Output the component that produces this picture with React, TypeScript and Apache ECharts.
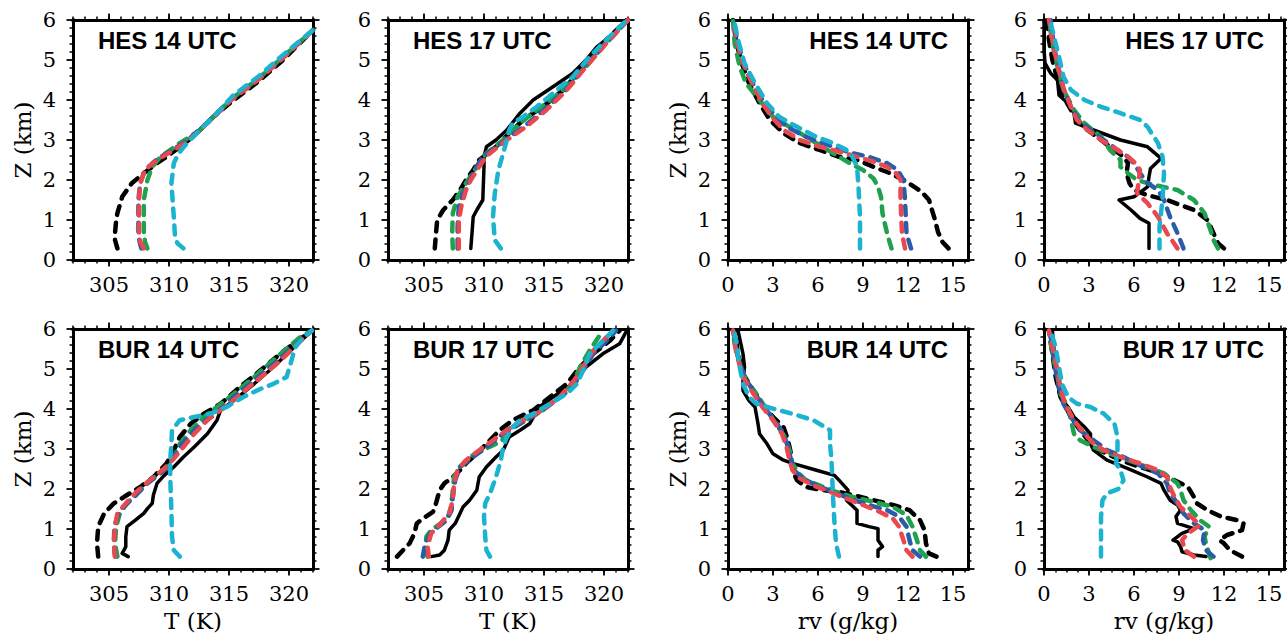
import React, { useEffect, useRef } from 'react';
import * as echarts from 'echarts';

// ---------- axis definitions ----------
const T_RANGE = [302, 322];
const RV_RANGE = [0, 16];
const Z_RANGE = [0, 6];
const T_MAJOR_TICKS = [305, 310, 315, 320];
const T_MINOR_TICKS = [302, 303, 304, 305, 306, 307, 308, 309, 310, 311, 312, 313, 314, 315, 316, 317, 318, 319, 320, 321, 322];
const RV_MAJOR_TICKS = [0, 3, 6, 9, 12, 15];
const RV_MINOR_TICKS = [0, 0.75, 1.5, 2.25, 3, 3.75, 4.5, 5.25, 6, 6.75, 7.5, 8.25, 9, 9.75, 10.5, 11.25, 12, 12.75, 13.5, 14.25, 15, 15.75];
const T_NAME = 'T (K)';
const RV_NAME = 'rv (g/kg)';
const Z_NAME = 'Z (km)';

// ---------- data: [value, height km] ----------
// HES 14 UTC, temperature
const HES14_T_CTRL = [[305.7,0.29],[305.5,0.5],[305.5,0.67],[305.6,1.0],[305.7,1.17],[306.1,1.58],[306.9,1.92],[307.9,2.17],[309.0,2.42],[309.8,2.58],[310.9,2.83],[312.0,3.08],[313.7,3.58],[315.4,4.0],[317.6,4.5],[319.5,5.0],[322,5.75]];
const HES14_T_GREEN = [[308.2,0.29],[308.0,0.45],[307.9,0.7],[307.9,1.5],[308.2,2.0],[308.6,2.33],[309.3,2.58],[310.9,2.92],[312.6,3.25],[314.0,3.67],[315.3,4.05],[317.5,4.55],[319.4,5.05],[322,5.75]];
const HES14_T_BLUE = [[307.7,0.29],[307.55,0.45],[307.45,0.7],[307.45,1.5],[307.6,1.92],[308.0,2.25],[309.0,2.52],[310.4,2.77],[311.5,2.98],[313.2,3.44],[315.2,4.03],[317.5,4.54],[319.4,5.04],[322,5.75]];
const HES14_T_RED = [[307.9,0.29],[307.6,0.45],[307.5,0.7],[307.5,1.5],[307.6,1.92],[308.0,2.25],[309.0,2.5],[310.4,2.75],[311.5,2.96],[313.2,3.42],[315.2,4.0],[317.5,4.52],[319.4,5.02],[322,5.75]];
const HES14_T_CYAN = [[311.2,0.29],[310.7,0.42],[310.5,0.6],[310.4,1.08],[310.2,1.92],[310.4,2.42],[310.8,2.67],[311.5,2.92],[312.6,3.25],[314.0,3.67],[315.3,4.1],[317.5,4.6],[319.4,5.1],[322,5.75]];

// HES 17 UTC, temperature
const HES17_T_OBS = [[308.9,0.29],[309.0,0.67],[309.1,1.08],[309.4,1.25],[309.9,1.5],[310.0,2.33],[310.0,2.58],[310.2,2.83],[311.0,3.0],[311.9,3.25],[313.0,3.67],[314.1,4.0],[315.75,4.33],[317.4,4.67],[318.5,5.0],[319.4,5.33],[320.5,5.58],[321.9,6.0]];
const HES17_T_CTRL = [[305.9,0.29],[306.0,0.67],[306.1,1.0],[306.6,1.25],[307.4,1.5],[308.0,1.75],[308.5,2.0],[309.1,2.25],[309.6,2.5],[311.0,2.83],[312.1,3.17],[313.25,3.5],[314.9,3.83],[316.6,4.25],[318.25,4.83],[319.9,5.42],[321.9,6.0]];
const HES17_T_GREEN = [[307.4,0.29],[307.35,0.67],[307.4,1.17],[307.8,1.58],[308.5,1.92],[309.4,2.33],[310.2,2.67],[311.6,3.0],[313.0,3.42],[314.4,3.75],[316.3,4.17],[318.25,4.75],[319.9,5.33],[322,6.0]];
const HES17_T_BLUE = [[307.8,0.29],[307.8,0.83],[307.9,1.33],[308.25,1.67],[308.7,1.92],[309.2,2.25],[309.9,2.58],[311.8,3.0],[313.4,3.35],[315.1,3.78],[316.9,4.27],[318.6,4.9],[320.2,5.45],[322,6.0]];
const HES17_T_RED = [[307.9,0.29],[307.9,1.0],[308.1,1.33],[308.5,1.75],[308.9,2.0],[309.6,2.33],[310.2,2.6],[311.9,3.0],[313.5,3.33],[315.2,3.75],[316.9,4.25],[318.5,4.83],[320.2,5.42],[322,6.0]];
const HES17_T_CYAN = [[311.4,0.29],[310.9,0.5],[310.75,1.08],[310.9,1.67],[311.2,2.25],[311.6,2.67],[311.9,3.0],[312.1,3.25],[312.4,3.42],[313.25,3.58],[314.4,3.83],[315.75,4.17],[317.4,4.58],[318.8,5.08],[319.9,5.42],[321.9,6.0]];

// HES 14 UTC, water vapour
const HES14_RV_CTRL = [[14.7,0.29],[14.3,0.45],[14.0,0.7],[13.8,1.0],[13.4,1.5],[12.9,1.71],[11.9,1.96],[10.8,2.17],[9.7,2.33],[8.6,2.5],[7.4,2.58],[6.1,2.75],[4.8,2.92],[3.7,3.17],[2.8,3.5],[2.1,3.92],[1.4,4.42],[1.0,4.83],[0.56,5.42],[0.33,6.0]];
const HES14_RV_GREEN = [[10.9,0.29],[10.6,0.67],[10.3,1.17],[10.2,1.58],[10.0,1.83],[9.7,2.04],[9.0,2.25],[8.3,2.38],[7.4,2.58],[6.3,2.83],[5.2,3.08],[4.1,3.33],[3.0,3.58],[2.1,4.0],[1.2,4.42],[0.78,4.83],[0.44,5.42],[0.33,6.0]];
const HES14_RV_BLUE = [[12.2,0.29],[11.9,0.67],[11.8,1.5],[11.7,2.0],[11.3,2.25],[10.6,2.42],[9.4,2.58],[8.3,2.67],[7.0,2.83],[5.2,3.08],[3.9,3.33],[3.0,3.67],[2.3,4.0],[1.6,4.45],[1.05,4.92],[0.6,5.5],[0.38,6.0]];
const HES14_RV_RED = [[11.8,0.29],[11.6,0.67],[11.5,1.5],[11.5,2.0],[11.2,2.17],[10.6,2.33],[9.7,2.46],[8.6,2.58],[7.4,2.71],[6.1,2.83],[4.8,3.0],[3.7,3.25],[2.9,3.58],[2.3,3.92],[1.6,4.42],[1.0,4.92],[0.56,5.5],[0.38,6.0]];
const HES14_RV_CYAN = [[8.8,0.29],[8.8,1.08],[8.7,1.83],[8.6,2.33],[8.3,2.58],[7.9,2.75],[7.0,2.92],[5.9,3.08],[4.6,3.33],[3.4,3.58],[2.6,3.92],[1.8,4.42],[1.1,4.92],[0.67,5.5],[0.4,6.0]];

// HES 17 UTC, water vapour
const HES17_RV_OBS = [[7.0,0.29],[7.0,0.92],[6.4,1.04],[5.8,1.25],[5.0,1.5],[6.0,1.58],[6.9,1.83],[7.0,2.08],[7.1,2.29],[7.8,2.54],[6.9,2.83],[5.1,3.0],[3.3,3.25],[2.1,3.42],[2.0,3.67],[1.6,3.92],[1.0,4.12],[0.9,4.5],[0.44,4.67],[0.07,4.92],[0,5.25],[0,6.0]];
const HES17_RV_CTRL = [[12.0,0.29],[11.6,0.42],[11.3,0.67],[10.9,1.0],[10.0,1.25],[8.2,1.5],[6.9,1.62],[6.0,1.75],[5.7,1.92],[5.5,2.17],[5.6,2.42],[5.3,2.58],[4.7,2.75],[3.8,3.0],[2.9,3.25],[2.2,3.5],[1.8,3.75],[1.3,4.08],[0.9,4.5],[0.56,5.0],[0.33,5.5],[0.22,6.0]];
const HES17_RV_GREEN = [[11.6,0.29],[11.3,0.5],[11.1,0.75],[10.7,1.17],[10.0,1.5],[8.9,1.75],[7.3,1.88],[6.2,2.0],[5.6,2.17],[5.1,2.33],[5.1,2.5],[4.4,2.75],[3.8,3.08],[2.7,3.42],[2.0,3.75],[1.3,4.25],[0.9,4.83],[0.56,5.42],[0.33,6.0]];
const HES17_RV_BLUE = [[9.3,0.29],[8.9,0.67],[8.4,1.08],[8.0,1.5],[7.6,1.75],[6.9,1.92],[6.4,2.17],[6.0,2.42],[5.6,2.58],[4.9,2.75],[4.0,3.0],[3.1,3.25],[2.3,3.5],[1.8,3.83],[1.3,4.25],[1.0,4.75],[0.67,5.33],[0.44,6.0]];
const HES17_RV_RED = [[8.9,0.29],[8.2,0.67],[7.6,1.08],[6.9,1.42],[6.2,1.67],[6.3,1.92],[6.4,2.25],[6.1,2.42],[5.6,2.58],[4.9,2.75],[3.8,3.0],[2.9,3.25],[2.2,3.5],[1.8,3.83],[1.3,4.3],[0.95,4.8],[0.6,5.4],[0.33,6.0]];
const HES17_RV_CYAN = [[7.7,0.29],[7.7,0.83],[7.9,1.5],[8.0,2.17],[7.9,2.58],[7.6,2.92],[6.9,3.33],[6.4,3.5],[5.1,3.67],[3.8,3.83],[2.7,4.0],[1.8,4.25],[1.3,4.58],[1.0,5.08],[0.67,5.58],[0.4,6.0]];

// BUR 14 UTC, temperature
const BUR14_T_OBS = [[306.6,0.31],[306.1,0.39],[306.4,0.56],[306.4,0.81],[306.5,1.06],[307.2,1.22],[307.9,1.39],[308.2,1.51],[308.6,1.64],[308.7,1.85],[309.0,2.14],[309.6,2.34],[310.4,2.55],[311.2,2.8],[312.1,3.05],[313.2,3.38],[314.0,3.72],[314.3,3.97],[315.4,4.21],[317.1,4.63],[318.7,5.05],[320.4,5.54],[321.9,5.96]];
const BUR14_T_CTRL = [[304.1,0.31],[304.0,0.64],[304.1,1.06],[304.6,1.39],[305.4,1.64],[306.5,1.85],[307.6,2.05],[308.7,2.3],[309.8,2.64],[310.4,2.97],[310.9,3.3],[311.8,3.63],[312.9,3.88],[314.3,4.13],[315.9,4.55],[317.6,4.96],[319.6,5.46],[321.9,5.96]];
const BUR14_T_GREEN = [[305.7,0.31],[305.5,0.64],[305.6,1.06],[305.9,1.39],[306.5,1.64],[307.3,1.89],[308.4,2.22],[309.6,2.47],[310.4,2.8],[310.9,3.13],[311.8,3.47],[312.9,3.8],[314.0,4.05],[315.4,4.38],[317.1,4.8],[319.0,5.3],[320.9,5.79],[321.9,5.96]];
const BUR14_T_BLUE = [[305.5,0.31],[305.4,0.64],[305.45,1.06],[305.7,1.31],[306.2,1.55],[307.1,1.8],[308.2,2.14],[309.6,2.47],[310.4,2.8],[311.1,3.13],[312.1,3.47],[313.4,3.8],[314.3,3.99],[315.4,4.3],[317.1,4.71],[319.1,5.22],[320.7,5.65],[321.9,5.96]];
const BUR14_T_RED = [[305.5,0.31],[305.4,0.64],[305.5,1.06],[305.7,1.39],[306.4,1.64],[307.3,1.93],[308.4,2.22],[309.6,2.51],[310.4,2.76],[311.2,3.05],[312.1,3.38],[313.2,3.72],[314.3,3.97],[315.7,4.3],[317.3,4.71],[319.3,5.21],[320.7,5.63],[321.9,5.96]];
const BUR14_T_CYAN = [[310.9,0.31],[310.4,0.47],[310.25,0.81],[310.2,1.47],[310.1,2.3],[310.1,2.72],[310.2,3.13],[310.25,3.47],[310.9,3.72],[312.1,3.8],[313.4,3.88],[314.8,4.05],[316.2,4.3],[317.6,4.5],[318.7,4.63],[319.8,4.8],[320.2,5.2],[320.5,5.54],[321.2,5.79],[321.9,5.96]];

// BUR 17 UTC, temperature
const BUR17_T_OBS = [[305.6,0.31],[306.3,0.35],[306.7,0.47],[307.0,0.72],[307.1,0.97],[307.6,1.14],[308.0,1.39],[308.25,1.55],[308.8,1.72],[309.4,1.97],[309.6,2.3],[310.2,2.55],[311.0,2.8],[311.6,2.97],[312.1,3.3],[313.0,3.47],[313.8,3.63],[314.6,4.05],[315.75,4.3],[317.4,4.63],[318.5,5.05],[319.9,5.38],[321.3,5.63],[321.9,5.96]];
const BUR17_T_CTRL = [[302.75,0.31],[303.25,0.47],[303.8,0.64],[304.2,0.89],[304.4,1.14],[304.9,1.26],[305.75,1.43],[306.0,1.64],[306.3,1.97],[306.7,2.14],[307.4,2.3],[308.0,2.47],[308.5,2.64],[309.4,2.88],[310.2,3.13],[311.3,3.47],[312.4,3.72],[314.1,3.97],[315.5,4.3],[316.9,4.63],[318.0,5.05],[319.1,5.38],[320.5,5.71],[321.3,5.96]];
const BUR17_T_GREEN = [[305.3,0.31],[305.1,0.56],[305.2,0.81],[305.6,0.97],[306.4,1.14],[307.0,1.31],[307.25,1.55],[307.4,1.97],[307.5,2.3],[308.0,2.55],[308.8,2.8],[309.9,2.97],[311.0,3.13],[311.9,3.3],[312.4,3.55],[313.5,3.72],[314.9,3.97],[316.3,4.3],[317.4,4.63],[318.0,5.05],[318.8,5.46],[319.9,5.96]];
const BUR17_T_BLUE = [[304.9,0.31],[305.1,0.64],[305.5,0.89],[306.2,1.06],[306.9,1.22],[307.3,1.47],[307.4,1.8],[307.6,2.22],[308.0,2.55],[309.1,2.8],[310.2,3.05],[311.6,3.38],[313.0,3.63],[314.4,3.88],[316.0,4.21],[317.4,4.55],[318.25,4.96],[319.1,5.38],[320.5,5.79],[321.0,5.96]];
const BUR17_T_RED = [[305.4,0.31],[305.3,0.56],[305.6,0.89],[306.4,1.14],[307.1,1.39],[307.4,1.72],[307.5,2.14],[307.8,2.47],[308.5,2.72],[309.6,2.97],[310.75,3.22],[311.9,3.47],[313.25,3.72],[314.9,3.97],[316.3,4.3],[317.5,4.71],[318.25,5.05],[319.1,5.46],[320.75,5.96]];
const BUR17_T_CYAN = [[310.5,0.31],[310.2,0.47],[310.1,0.81],[310.0,1.31],[310.1,1.64],[310.5,1.89],[311.0,2.3],[311.4,2.72],[311.6,3.05],[311.9,3.3],[312.4,3.55],[313.0,3.72],[314.1,3.88],[315.5,4.13],[316.9,4.38],[317.75,4.63],[318.25,4.96],[318.8,5.38],[320.2,5.79],[320.75,5.96]];

// BUR 14 UTC, water vapour
const BUR14_RV_OBS = [[10.0,0.31],[10.0,0.47],[10.3,0.56],[10.0,0.72],[10.0,1.01],[9.4,1.06],[8.6,1.14],[8.6,1.47],[7.9,1.72],[8.0,1.97],[7.4,2.22],[7.1,2.34],[5.9,2.47],[4.3,2.64],[3.7,2.72],[3.0,2.88],[2.6,3.13],[2.1,3.38],[2.0,3.63],[1.8,4.05],[1.4,4.21],[1.0,4.46],[1.0,4.71],[1.1,5.05],[1.0,5.38],[0.67,5.96]];
const BUR14_RV_CTRL = [[13.9,0.31],[13.4,0.39],[13.2,0.64],[13.1,0.97],[12.8,1.22],[12.1,1.47],[11.0,1.6],[9.7,1.72],[8.3,1.85],[7.4,1.93],[6.3,1.97],[5.2,2.05],[4.6,2.22],[4.3,2.47],[4.2,2.88],[4.0,3.22],[3.7,3.55],[3.0,3.8],[2.3,4.13],[1.7,4.46],[1.0,4.88],[0.67,5.38],[0.44,5.96]];
const BUR14_RV_GREEN = [[13.2,0.31],[12.8,0.47],[12.6,0.72],[12.3,1.06],[11.9,1.35],[11.0,1.55],[9.7,1.68],[8.3,1.8],[7.2,1.93],[6.1,2.09],[5.2,2.22],[4.7,2.39],[4.3,2.64],[4.1,2.97],[3.8,3.3],[3.2,3.63],[2.6,3.97],[1.9,4.38],[1.2,4.71],[0.78,5.13],[0.44,5.63],[0.33,5.96]];
const BUR14_RV_BLUE = [[12.8,0.31],[12.3,0.47],[12.1,0.72],[11.9,1.06],[11.4,1.31],[10.6,1.47],[9.4,1.6],[8.1,1.76],[7.0,1.93],[5.9,2.09],[5.0,2.26],[4.4,2.47],[4.2,2.72],[4.0,3.05],[3.7,3.38],[3.1,3.72],[2.4,4.05],[1.8,4.38],[1.1,4.8],[0.67,5.3],[0.4,5.96]];
const BUR14_RV_RED = [[12.3,0.31],[11.9,0.47],[11.7,0.72],[11.4,1.06],[11.0,1.26],[10.1,1.43],[9.0,1.6],[7.9,1.76],[6.8,1.93],[5.7,2.09],[4.8,2.26],[4.3,2.47],[4.1,2.72],[3.9,3.05],[3.6,3.38],[3.0,3.72],[2.3,4.05],[1.7,4.38],[1.0,4.8],[0.56,5.38],[0.33,5.96]];
const BUR14_RV_CYAN = [[7.4,0.31],[7.2,0.64],[7.1,1.14],[7.0,1.8],[6.9,2.72],[6.8,3.13],[6.8,3.47],[5.7,3.72],[4.3,3.88],[3.0,4.01],[1.9,4.13],[1.4,4.3],[1.0,4.63],[0.78,5.05],[0.56,5.63],[0.4,5.96]];

// BUR 17 UTC, water vapour
const BUR17_RV_OBS = [[10.8,0.31],[10.0,0.35],[9.2,0.43],[9.1,0.56],[8.9,0.68],[8.6,0.72],[9.2,0.89],[10.0,1.01],[8.9,1.14],[8.8,1.31],[9.1,1.47],[8.9,1.6],[8.4,1.72],[8.0,1.97],[7.8,2.14],[6.9,2.3],[5.6,2.51],[4.2,2.72],[3.3,2.97],[3.1,3.13],[3.1,3.38],[2.7,3.55],[2.0,3.8],[1.6,4.05],[1.1,4.3],[0.9,4.63],[0.78,4.96],[0.67,5.46],[0.56,5.96]];
const BUR17_RV_CTRL = [[13.2,0.31],[12.4,0.47],[12.0,0.64],[11.7,0.72],[12.2,0.85],[13.2,0.97],[13.3,1.14],[12.9,1.22],[11.8,1.31],[10.9,1.47],[10.2,1.64],[10.0,1.8],[9.6,2.05],[8.7,2.22],[7.8,2.39],[6.4,2.55],[5.1,2.72],[4.2,2.88],[3.3,3.05],[2.4,3.47],[1.8,3.8],[1.1,4.3],[0.78,4.8],[0.56,5.38],[0.33,5.96]];
const BUR17_RV_GREEN = [[11.1,0.27],[10.8,0.64],[10.7,0.81],[11.0,1.06],[10.4,1.22],[9.8,1.47],[9.3,1.72],[9.1,1.97],[8.9,2.14],[8.0,2.39],[6.9,2.55],[5.6,2.72],[4.4,2.88],[3.3,3.05],[2.4,3.22],[2.0,3.38],[1.8,3.72],[1.6,4.05],[1.1,4.38],[0.9,4.8],[0.56,5.38],[0.33,5.96]];
const BUR17_RV_BLUE = [[11.3,0.31],[10.8,0.47],[10.6,0.72],[10.7,0.97],[10.0,1.14],[9.3,1.39],[8.9,1.64],[8.4,1.89],[8.2,2.14],[7.6,2.39],[6.4,2.59],[5.3,2.8],[4.2,2.97],[3.3,3.22],[2.4,3.47],[1.8,3.8],[1.3,4.13],[1.0,4.55],[0.78,4.96],[0.56,5.46],[0.4,5.96]];
const BUR17_RV_RED = [[10.0,0.31],[9.4,0.47],[9.2,0.72],[9.6,0.89],[10.4,1.1],[9.8,1.31],[9.1,1.55],[8.7,1.8],[8.4,2.05],[8.2,2.3],[7.6,2.47],[6.4,2.64],[5.1,2.8],[4.0,2.97],[3.3,3.13],[2.7,3.38],[2.0,3.72],[1.4,4.13],[1.1,4.55],[0.9,4.96],[0.62,5.46],[0.33,5.96]];
const BUR17_RV_CYAN = [[3.8,0.31],[3.8,0.64],[3.8,1.31],[3.9,1.72],[4.2,1.89],[5.0,2.01],[5.3,2.22],[5.1,2.47],[4.8,2.64],[4.9,2.97],[4.9,3.3],[4.7,3.63],[4.0,3.88],[3.1,4.05],[2.2,4.13],[1.6,4.3],[1.2,4.63],[1.0,5.05],[0.78,5.54],[0.44,5.96]];

// ---------- run styles ----------
const RUN_NAMES = ['OBS', 'CTRL', 'GREEN', 'BLUE', 'RED', 'CYAN'];
const RUN_COLORS = ['#000000', '#000000', '#1fa14f', '#2a5ca8', '#e8484e', '#1cb3d1'];
const RUN_DASHED = [false, true, true, true, true, true];

const PANEL_TITLES = ['HES 14 UTC', 'HES 17 UTC', 'HES 14 UTC', 'HES 17 UTC', 'BUR 14 UTC', 'BUR 17 UTC', 'BUR 14 UTC', 'BUR 17 UTC'];
const PANEL_KINDS = ['T', 'T', 'RV', 'RV', 'T', 'T', 'RV', 'RV'];
const PANEL_LINES = [
  [null, HES14_T_CTRL, HES14_T_GREEN, HES14_T_BLUE, HES14_T_RED, HES14_T_CYAN],
  [HES17_T_OBS, HES17_T_CTRL, HES17_T_GREEN, HES17_T_BLUE, HES17_T_RED, HES17_T_CYAN],
  [null, HES14_RV_CTRL, HES14_RV_GREEN, HES14_RV_BLUE, HES14_RV_RED, HES14_RV_CYAN],
  [HES17_RV_OBS, HES17_RV_CTRL, HES17_RV_GREEN, HES17_RV_BLUE, HES17_RV_RED, HES17_RV_CYAN],
  [BUR14_T_OBS, BUR14_T_CTRL, BUR14_T_GREEN, BUR14_T_BLUE, BUR14_T_RED, BUR14_T_CYAN],
  [BUR17_T_OBS, BUR17_T_CTRL, BUR17_T_GREEN, BUR17_T_BLUE, BUR17_T_RED, BUR17_T_CYAN],
  [BUR14_RV_OBS, BUR14_RV_CTRL, BUR14_RV_GREEN, BUR14_RV_BLUE, BUR14_RV_RED, BUR14_RV_CYAN],
  [BUR17_RV_OBS, BUR17_RV_CTRL, BUR17_RV_GREEN, BUR17_RV_BLUE, BUR17_RV_RED, BUR17_RV_CYAN],
];

// ---------- layout ----------
const W = 1287;
const H = 637;
const COL_LEFT = [73, 388, 728, 1044];
const ROW_TOP = [20, 329];
const BOX = 240;
const SERIF = 'DejaVu Serif';
const SANS = '"Liberation Sans", Arial, sans-serif';

function buildOption() {
  const grid: any[] = [];
  const xAxis: any[] = [];
  const yAxis: any[] = [];
  const series: any[] = [];
  const graphic: any[] = [];

  PANEL_TITLES.forEach((title, p) => {
    const col = p % 4;
    const row = Math.floor(p / 4);
    const left = COL_LEFT[col];
    const top = ROW_TOP[row];
    grid.push({ left, top, width: BOX, height: BOX, containLabel: false, outerBoundsMode: 'none' });

    const isT = PANEL_KINDS[p] === 'T';
    const range = isT ? T_RANGE : RV_RANGE;
    const majors = isT ? T_MAJOR_TICKS : RV_MAJOR_TICKS;
    const minors = isT ? T_MINOR_TICKS : RV_MINOR_TICKS;
    const minorInterval = isT ? 1 : 0.75;

    const baseX = {
      type: 'value', gridIndex: p, min: range[0], max: range[1],
      splitLine: { show: false }, splitArea: { show: false }, minorTick: { show: false },
    };
    ['bottom', 'top'].forEach((pos) => {
      xAxis.push({
        ...baseX, position: pos, interval: minorInterval,
        axisLine: { show: true, onZero: false, lineStyle: { color: '#000', width: 3, cap: 'square' } },
        axisTick: { show: true, inside: false, length: 3.5, customValues: minors, lineStyle: { color: '#000', width: 1.5 } },
        axisLabel: { show: false },
      });
      const showLabels = pos === 'bottom';
      xAxis.push({
        ...baseX, position: pos,
        axisLine: { show: false, onZero: false },
        axisTick: { show: true, inside: false, length: 6.5, customValues: majors, lineStyle: { color: '#000', width: 1.8 } },
        axisLabel: showLabels
          ? { show: true, customValues: majors, margin: 14, fontSize: 21, fontFamily: SERIF, color: '#000' }
          : { show: false },
        name: showLabels && row === 1 ? (isT ? T_NAME : RV_NAME) : '',
        nameLocation: 'middle', nameGap: 40, nameMoveOverlap: false,
        nameTextStyle: { fontSize: 23, fontFamily: SERIF, color: '#000' },
      });
    });

    ['left', 'right'].forEach((pos) => {
      const isLeft = pos === 'left';
      yAxis.push({
        type: 'value', gridIndex: p, position: pos, min: Z_RANGE[0], max: Z_RANGE[1], interval: 1,
        splitLine: { show: false }, splitArea: { show: false },
        axisLine: { show: true, onZero: false, lineStyle: { color: '#000', width: 3, cap: 'square' } },
        axisTick: { show: true, inside: false, length: 6.5, lineStyle: { color: '#000', width: 1.8 } },
        minorTick: { show: true, splitNumber: 5, length: 3.5, lineStyle: { color: '#000', width: 1.5 } },
        axisLabel: isLeft
          ? { show: true, margin: 17, fontSize: 21, fontFamily: SERIF, color: '#000', showMinLabel: true, showMaxLabel: true }
          : { show: false },
        name: isLeft && (col === 0 || col === 2) ? Z_NAME : '',
        nameLocation: 'middle', nameGap: 39, nameMoveOverlap: false,
        nameTextStyle: { fontSize: 23, fontFamily: SERIF, color: '#000' },
      });
    });

    PANEL_LINES[p].forEach((data, r) => {
      if (!data) return;
      series.push({
        type: 'line',
        name: RUN_NAMES[r],
        xAxisIndex: p * 4 + 1,
        yAxisIndex: p * 2,
        data,
        showSymbol: false,
        symbol: 'none',
        silent: true,
        clip: true,
        z: 2 + r,
        lineStyle: RUN_DASHED[r]
          ? { color: RUN_COLORS[r], width: 4.5, type: [9, 8], cap: 'round', join: 'round' }
          : { color: RUN_COLORS[r], width: 3.5, type: 'solid', cap: 'round', join: 'round' },
        emphasis: { disabled: true },
      });
    });

    const rightAligned = col >= 2;
    graphic.push({
      type: 'text',
      x: rightAligned ? left + BOX - 20 : left + 25,
      y: top + 20,
      silent: true,
      style: {
        text: title,
        font: `bold 24px ${SANS}`,
        fill: '#000',
        textAlign: rightAligned ? 'right' : 'left',
        textVerticalAlign: 'middle',
        align: rightAligned ? 'right' : 'left',
        verticalAlign: 'middle',
      },
      z: 100,
    });
  });

  return {
    animation: false,
    backgroundColor: '#ffffff',
    grid, xAxis, yAxis, series, graphic,
  };
}

export default function App() {
  const ref = useRef<HTMLDivElement>(null);
  useEffect(() => {
    if (!ref.current) return;
    const chart = echarts.init(ref.current, undefined, { renderer: 'svg', width: W, height: H });
    chart.setOption(buildOption() as any);
    return () => chart.dispose();
  }, []);
  return (
    <div
      ref={ref}
      style={{ position: 'absolute', left: 0, top: 0, width: W, height: H, background: '#fff' }}
    />
  );
}
